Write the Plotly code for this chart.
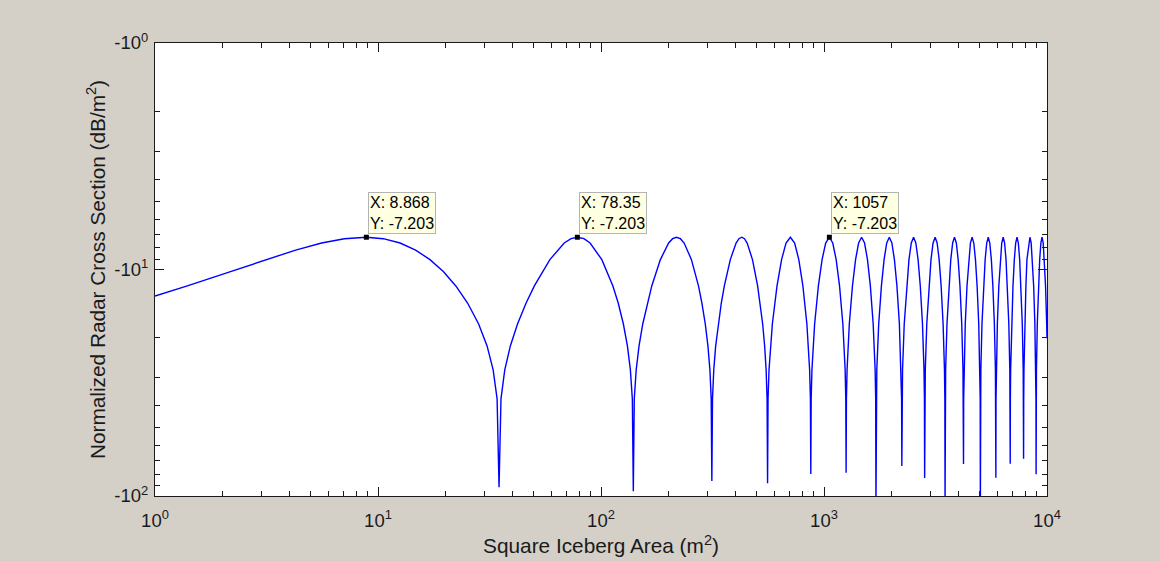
import math
import plotly.graph_objects as go

# ---------------- data ----------------
# Square iceberg area (m^2) sample points, lobe by lobe (nulls included)
area = [
    # lobe 0 (start at 1 m^2)
    1.0, 1.396, 2.181, 3.141, 4.275, 5.584, 7.067, 8.868, 10.557, 12.564, 14.745,
    17.101, 19.631, 22.336, 25.215, 28.269, 30.838, 32.837, 34.205,
    34.9,
    # lobe 1
    35.601, 37.025, 39.214, 42.229, 46.155, 50.256, 58.981, 68.404, 73.377, 78.35,
    83.847, 89.344, 100.861, 113.076, 119.445, 125.989, 131.350, 135.443, 138.207,
    139.6,
    # lobe 2
    141.0, 143.82, 148.10, 153.91, 161.33, 168.92, 184.62, 201.02, 209.49, 218.13,
    226.94, 235.92, 254.42, 273.62, 283.48, 293.51, 301.66, 307.85, 312.01,
    314.1,
    # lobe 3
    316.20, 320.41, 326.79, 335.39, 346.30, 357.38, 380.06, 403.44, 415.40, 427.53,
    439.83, 452.30, 477.78, 503.96, 517.31, 530.83, 541.77, 550.06, 555.61,
    558.4,
    # lobe 4
    561.20, 566.81, 586.67, 615.64, 645.30, 675.66, 706.73, 738.48, 770.94, 804.10, 837.95, 862.06, 869.01,
    872.5,
    # lobe 5
    875.99, 883.00, 907.75, 943.70, 980.34, 1017.7, 1057.0, 1094.5, 1133.9, 1174.0, 1214.9, 1243.9, 1252.2,
    1256.4,
    # lobe 6
    1260.6, 1269.0, 1298.6, 1341.6, 1385.2, 1429.5, 1474.5, 1520.2, 1566.7, 1613.8, 1661.6, 1695.5, 1705.2,
    1710.1,
    # lobe 7
    1715.0, 1724.8, 1759.3, 1809.2, 1859.8, 1911.1, 1963.1, 2015.8, 2069.2, 2123.3, 2178.1, 2216.9, 2228.0,
    2233.6,
    # lobe 8
    2239.2, 2250.4, 2289.8, 2346.7, 2404.3, 2462.5, 2521.5, 2581.2, 2641.6, 2702.7, 2764.4, 2808.1, 2820.6,
    2826.9,
    # lobe 9
    2833.2, 2845.8, 2890.1, 2953.9, 3018.5, 3083.8, 3149.7, 3216.4, 3283.7, 3351.8, 3420.5, 3469.1, 3483.0,
    3490.0,
    # lobe 10
    3497.0, 3511.0, 3560.1, 3631.0, 3702.5, 3774.8, 3847.7, 3921.4, 3995.7, 4070.7, 4146.5, 4199.9, 4215.2,
    4222.9,
    # lobe 11
    4230.6, 4246.0, 4300.0, 4377.9, 4456.4, 4535.6, 4615.5, 4696.1, 4777.5, 4859.5, 4942.2, 5000.5, 5017.2,
    5025.6,
    # lobe 12
    5034.0, 5050.8, 5109.7, 5194.5, 5280.0, 5366.2, 5453.1, 5540.7, 5629.0, 5718.0, 5807.7, 5870.9, 5889.0,
    5898.1,
    # lobe 13
    5907.2, 5925.4, 5989.2, 6081.0, 6173.5, 6266.6, 6360.5, 6455.1, 6550.4, 6646.4, 6743.0, 6811.1, 6830.6,
    6840.4,
    # lobe 14
    6850.2, 6869.7, 6938.5, 7037.2, 7136.7, 7236.9, 7337.7, 7439.3, 7541.5, 7644.5, 7748.1, 7821.1, 7842.0,
    7852.5,
    # lobe 15
    7863.0, 7883.9, 7957.5, 8042.4, 8127.9, 8276.9, 8384.7, 8493.3, 8602.5, 8712.4, 8823.1, 8900.9, 8923.2,
    8934.4,
    # lobe 16 (cut at 1e4)
    8945.6, 8967.9, 9046.4, 9159.2, 9272.6, 9386.7, 9501.5, 9617.0, 9733.3, 9850.2, 9967.8, 10000.0,
]

# Normalized radar cross section (dB/m^2) at those points
rcs_db = [
    # lobe 0
    -13.101, -11.818, -10.213, -9.044, -8.206, -7.639, -7.311, -7.203, -7.311, -7.639, -8.206,
    -9.044, -10.213, -11.818, -14.062, -17.403, -21.749, -27.730, -37.261,
    -91.5,
    # lobe 1
    -37.261, -27.730, -21.749, -17.403, -14.062, -11.818, -9.044, -7.639, -7.311, -7.203,
    -7.311, -7.639, -9.044, -11.818, -14.062, -17.403, -21.749, -27.730, -37.261,
    -95.3,
    # lobe 2
    -37.261, -27.730, -21.749, -17.403, -14.062, -11.818, -9.044, -7.639, -7.311, -7.203,
    -7.311, -7.639, -9.044, -11.818, -14.062, -17.403, -21.749, -27.730, -37.261,
    -85.9,
    # lobe 3
    -37.261, -27.730, -21.749, -17.403, -14.062, -11.818, -9.044, -7.639, -7.311, -7.203,
    -7.311, -7.639, -9.044, -11.818, -14.062, -17.403, -21.749, -27.730, -37.261,
    -87.9,
    # lobe 4
    -37.261, -27.730, -17.403, -11.818, -9.044, -7.639, -7.203, -7.639, -9.044, -11.818, -17.403, -27.730, -37.261,
    -80.0,
    # lobe 5
    -37.261, -27.730, -17.403, -11.818, -9.044, -7.639, -7.203, -7.639, -9.044, -11.818, -17.403, -27.730, -37.261,
    -78.9,
    # lobe 6
    -37.261, -27.730, -17.403, -11.818, -9.044, -7.639, -7.203, -7.639, -9.044, -11.818, -17.403, -27.730, -37.261,
    -110.0,
    # lobe 7
    -37.261, -27.730, -17.403, -11.818, -9.044, -7.639, -7.203, -7.639, -9.044, -11.818, -17.403, -27.730, -37.261,
    -73.7,
    # lobe 8
    -37.261, -27.730, -17.403, -11.818, -9.044, -7.639, -7.203, -7.639, -9.044, -11.818, -17.403, -27.730, -37.261,
    -83.3,
    # lobe 9
    -37.261, -27.730, -17.403, -11.818, -9.044, -7.639, -7.203, -7.639, -9.044, -11.818, -17.403, -27.730, -37.261,
    -110.0,
    # lobe 10
    -37.261, -27.730, -17.403, -11.818, -9.044, -7.639, -7.203, -7.639, -9.044, -11.818, -17.403, -27.730, -37.261,
    -72.2,
    # lobe 11
    -37.261, -27.730, -17.403, -11.818, -9.044, -7.639, -7.203, -7.639, -9.044, -11.818, -17.403, -27.730, -37.261,
    -110.0,
    # lobe 12
    -37.261, -27.730, -17.403, -11.818, -9.044, -7.639, -7.203, -7.639, -9.044, -11.818, -17.403, -27.730, -37.261,
    -83.0,
    # lobe 13
    -37.261, -27.730, -17.403, -11.818, -9.044, -7.639, -7.203, -7.639, -9.044, -11.818, -17.403, -27.730, -37.261,
    -72.0,
    # lobe 14
    -37.261, -27.730, -17.403, -11.818, -9.044, -7.639, -7.203, -7.639, -9.044, -11.818, -17.403, -27.730, -37.261,
    -68.4,
    # lobe 15
    -37.261, -27.730, -17.403, -11.818, -9.044, -7.639, -7.203, -7.639, -9.044, -11.818, -17.403, -27.730, -37.261,
    -80.2,
    # lobe 16
    -37.261, -27.730, -17.403, -11.818, -9.044, -7.639, -7.203, -7.639, -9.044, -11.818, -17.403, -20.10,
]

# data tips
tip_area = [8.868, 78.35, 1057]
tip_db = [-7.203, -7.203, -7.203]

# axis ticks
x_ticks = [1, 10, 100, 1000, 10000]
x_tick_text = ["10<sup>0</sup>", "10<sup>1</sup>", "10<sup>2</sup>", "10<sup>3</sup>", "10<sup>4</sup>"]
x_minor = [2, 3, 4, 5, 6, 7, 8, 9, 20, 30, 40, 50, 60, 70, 80, 90,
           200, 300, 400, 500, 600, 700, 800, 900, 2000, 3000, 4000, 5000, 6000, 7000, 8000, 9000]
y_ticks = [1, 10, 100]
y_tick_text = ["-10<sup>0</sup>", "-10<sup>1</sup>", "-10<sup>2</sup>"]
y_minor = [2, 3, 4, 5, 6, 7, 8, 9, 20, 30, 40, 50, 60, 70, 80, 90]

# ---------------- figure ----------------
FONT = "Liberation Sans, Arial, Helvetica, sans-serif"
INK = "#1a1a1a"

fig = go.Figure()
fig.add_trace(go.Scatter(
    x=area, y=[-v for v in rcs_db], mode="lines",
    line=dict(color="#0000ff", width=1.4), hoverinfo="skip", showlegend=False,
))
fig.add_trace(go.Scatter(
    x=tip_area, y=[-v for v in tip_db], mode="markers",
    marker=dict(symbol="square", size=5, color="black", line=dict(width=0)),
    hoverinfo="skip", showlegend=False,
))

for a, d in zip(tip_area, tip_db):
    fig.add_annotation(
        x=math.log10(a), y=math.log10(-d), xref="x", yref="y",
        text=f"X: {a:g}<br>Y: {d:g}", showarrow=False,
        xanchor="left", yanchor="bottom", xshift=2, yshift=3, align="left",
        bgcolor="#ffffe1", bordercolor="#b4b4b4", borderwidth=1, borderpad=1,
        font=dict(family=FONT, size=16, color="black"),
    )

axis_common = dict(
    type="log", showgrid=False, zeroline=False, automargin=False,
    showline=True, linecolor=INK, linewidth=1, mirror="ticks",
    ticks="inside", ticklen=9, tickwidth=1, tickcolor=INK,
    tickfont=dict(family=FONT, size=18.5, color=INK),
)

fig.update_xaxes(
    **axis_common, range=[0, 4], ticklabelstandoff=8,
    tickmode="array", tickvals=x_ticks, ticktext=x_tick_text,
    minor=dict(tickmode="array", tickvals=x_minor, ticks="inside", ticklen=5, tickcolor=INK, showgrid=False),
    title=dict(text="Square Iceberg Area (m<sup>2</sup>)", font=dict(family=FONT, size=20.8, color=INK), standoff=8),
)
fig.update_yaxes(
    **axis_common, range=[2, 0], ticklabelstandoff=2,
    tickmode="array", tickvals=y_ticks, ticktext=y_tick_text,
    minor=dict(tickmode="array", tickvals=y_minor, ticks="inside", ticklen=5, tickcolor=INK, showgrid=False),
    title=dict(text="Normalized Radar Cross Section (dB/m<sup>2</sup>)", font=dict(family=FONT, size=20.8, color=INK), standoff=3),
)

fig.update_layout(
    width=1160, height=561,
    margin=dict(l=155, r=113, t=43, b=65, pad=0),
    paper_bgcolor="#d4d0c8", plot_bgcolor="white",
    font=dict(family=FONT, color=INK),
    showlegend=False,
)

fig.write_html("out.html", include_plotlyjs=True, full_html=True,
               config=dict(displayModeBar=False))
